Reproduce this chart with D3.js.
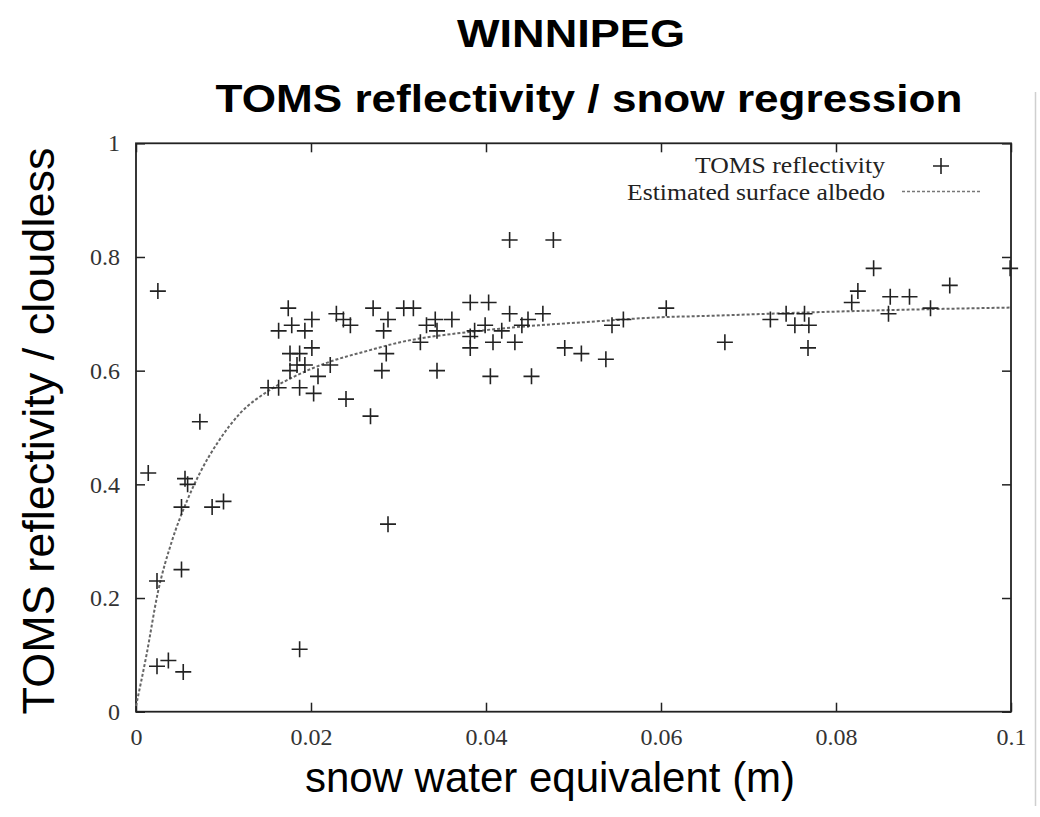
<!DOCTYPE html>
<html>
<head>
<meta charset="utf-8">
<script src="https://cdn.jsdelivr.net/npm/d3@7"></script>
<style>
  body { margin: 0; background: #fff; }
  .tick text { font-family: "Liberation Serif", serif; font-size: 24px; fill: #333; }
</style>
</head>
<body>
<div id="chart"></div>
<script>
// TOMS reflectivity measurements (snow water equivalent, reflectivity)
var sweValues = [0.0014, 0.0025, 0.0024, 0.0024, 0.0037, 0.0054, 0.0052, 0.0052, 0.0056, 0.0059,
  0.0073, 0.0087, 0.0100, 0.0151, 0.0163, 0.0163, 0.0174, 0.0178, 0.0176, 0.0176,
  0.0184, 0.0187, 0.0187, 0.0187, 0.0193, 0.0193, 0.0201, 0.0201, 0.0203, 0.0208,
  0.0222, 0.0229, 0.0237, 0.0245, 0.0240, 0.0268, 0.0271, 0.0281, 0.0283, 0.0286,
  0.0288, 0.0288, 0.0306, 0.0317, 0.0325, 0.0332, 0.0342, 0.0344, 0.0344, 0.0361,
  0.0382, 0.0382, 0.0382, 0.0387, 0.0399, 0.0403, 0.0405, 0.0408, 0.0418, 0.0427,
  0.0427, 0.0433, 0.0441, 0.0448, 0.0452, 0.0465, 0.0477, 0.0490, 0.0509, 0.0537,
  0.0544, 0.0557, 0.0606, 0.0673, 0.0725, 0.0743, 0.0753, 0.0764, 0.0769, 0.0768,
  0.0818, 0.0825, 0.0843, 0.0860, 0.0862, 0.0884, 0.0908, 0.0930, 0.0999];
var reflValues = [0.42, 0.74, 0.23, 0.08, 0.09, 0.07, 0.25, 0.36, 0.41, 0.40,
  0.51, 0.36, 0.37, 0.57, 0.57, 0.67, 0.71, 0.68, 0.63, 0.60,
  0.61, 0.63, 0.57, 0.11, 0.67, 0.61, 0.69, 0.64, 0.56, 0.59,
  0.61, 0.70, 0.69, 0.68, 0.55, 0.52, 0.71, 0.60, 0.67, 0.63,
  0.69, 0.33, 0.71, 0.71, 0.65, 0.68, 0.69, 0.67, 0.60, 0.69,
  0.72, 0.66, 0.64, 0.67, 0.68, 0.72, 0.59, 0.65, 0.67, 0.83,
  0.70, 0.65, 0.68, 0.69, 0.59, 0.70, 0.83, 0.64, 0.63, 0.62,
  0.68, 0.69, 0.71, 0.65, 0.69, 0.70, 0.68, 0.70, 0.68, 0.64,
  0.72, 0.74, 0.78, 0.70, 0.73, 0.73, 0.71, 0.75, 0.78];

// estimated surface albedo curve
var albedoX = [0, 0.0012, 0.0025, 0.0041, 0.0058, 0.0073, 0.0094, 0.0119, 0.0153, 0.0184, 0.0222,
  0.026, 0.0302, 0.0386, 0.0462, 0.0519, 0.0599, 0.0645, 0.0759, 0.0873, 0.1];
var albedoY = [0.01, 0.10, 0.21, 0.30, 0.37, 0.42, 0.475, 0.525, 0.566, 0.592, 0.616,
  0.633, 0.65, 0.669, 0.68, 0.686, 0.694, 0.696, 0.702, 0.707, 0.711];

var xTicks = [0, 0.02, 0.04, 0.06, 0.08, 0.1];
var yTicks = [0, 0.2, 0.4, 0.6, 0.8, 1];

var W = 1040, H = 817;
var margin = {top: 143.3, right: 29, bottom: 105.3, left: 136};
var width = W - margin.left - margin.right;
var height = H - margin.top - margin.bottom;

var root = d3.select("#chart").append("svg")
  .attr("width", W)
  .attr("height", H);

// faint border line on the right side of the original picture
root.append("line")
  .attr("x1", 1035.5).attr("x2", 1035.5)
  .attr("y1", 92).attr("y2", 806)
  .attr("stroke", "#cfcfcf").attr("stroke-width", 1.5);

var svg = root.append("g")
  .attr("transform", "translate(" + margin.left + "," + margin.top + ")");

var x = d3.scaleLinear().domain([0, 0.1]).range([0, width]);
var y = d3.scaleLinear().domain([0, 1]).range([height, 0]);

var fmt = function(d) { return d3.format("~g")(d); };

// axes, with ticks pointing inwards
svg.append("g")
  .attr("transform", "translate(0," + height + ")")
  .call(d3.axisBottom(x).tickValues(xTicks).tickSize(-9).tickPadding(16).tickFormat(fmt))
  .call(function(g) { g.select(".domain").remove(); });
svg.append("g")
  .call(d3.axisLeft(y).tickValues(yTicks).tickSize(-9).tickPadding(16).tickFormat(fmt))
  .call(function(g) { g.select(".domain").remove(); });
svg.append("g")
  .call(d3.axisTop(x).tickValues(xTicks).tickSize(-9).tickFormat(""))
  .call(function(g) { g.select(".domain").remove(); });
svg.append("g")
  .attr("transform", "translate(" + width + ",0)")
  .call(d3.axisRight(y).tickValues(yTicks).tickSize(-9).tickFormat(""))
  .call(function(g) { g.select(".domain").remove(); });
svg.selectAll(".tick line").attr("stroke", "#222").attr("stroke-width", 1.5);

svg.append("rect")
  .attr("width", width).attr("height", height)
  .attr("fill", "none").attr("stroke", "#222").attr("stroke-width", 1.8);

// albedo curve
var curveData = albedoX.map(function(v, i) { return [v, albedoY[i]]; });
svg.append("path")
  .datum(curveData)
  .attr("fill", "none")
  .attr("stroke", "#666")
  .attr("stroke-width", 2)
  .attr("stroke-dasharray", "3,2")
  .attr("d", d3.line().curve(d3.curveMonotoneX)
    .x(function(d) { return x(d[0]); })
    .y(function(d) { return y(d[1]); }));

// crosses
var pts = sweValues.map(function(v, i) { return [v, reflValues[i]]; });
var s = 8;
svg.append("g").selectAll("path")
  .data(pts)
  .enter().append("path")
  .attr("d", function(d) {
    var cx = x(d[0]), cy = y(d[1]);
    return "M" + (cx - s) + "," + cy + "H" + (cx + s) + "M" + cx + "," + (cy - s) + "V" + (cy + s);
  })
  .attr("stroke", "#222")
  .attr("stroke-width", 1.6)
  .attr("fill", "none");

// legend
var legend = root.append("g").style("font-family", "Liberation Serif, serif").style("font-size", "23px").attr("fill", "#222");
legend.append("text").attr("x", 885).attr("y", 173).attr("text-anchor", "end")
  .attr("textLength", 190).attr("lengthAdjust", "spacingAndGlyphs").text("TOMS reflectivity");
legend.append("text").attr("x", 885).attr("y", 200).attr("text-anchor", "end")
  .attr("textLength", 258).attr("lengthAdjust", "spacingAndGlyphs").text("Estimated surface albedo");
legend.append("path")
  .attr("d", "M" + (941 - s) + ",166H" + (941 + s) + "M941," + (166 - s) + "V" + (166 + s))
  .attr("stroke", "#222").attr("stroke-width", 1.6);
legend.append("line")
  .attr("x1", 902).attr("x2", 980).attr("y1", 191.5).attr("y2", 191.5)
  .attr("stroke", "#777").attr("stroke-width", 1.5).attr("stroke-dasharray", "3,2");

// titles
var titles = root.append("g").style("font-family", "Arial, Liberation Sans, sans-serif").style("font-weight", "bold")
  .style("font-size", "39px").attr("fill", "#000").attr("text-anchor", "middle");
titles.append("text").attr("x", 571).attr("y", 46.7)
  .attr("textLength", 228).attr("lengthAdjust", "spacingAndGlyphs").text("WINNIPEG");
titles.append("text").attr("x", 589).attr("y", 112)
  .attr("textLength", 747).attr("lengthAdjust", "spacingAndGlyphs").text("TOMS reflectivity / snow regression");

// axis titles
root.append("text")
  .attr("x", 550).attr("y", 792)
  .attr("text-anchor", "middle")
  .style("font-family", "Arial, Liberation Sans, sans-serif").style("font-size", "42px")
  .text("snow water equivalent (m)");
root.append("text")
  .attr("transform", "translate(54,431) rotate(-90)")
  .attr("text-anchor", "middle")
  .style("font-family", "Arial, Liberation Sans, sans-serif").style("font-size", "45px")
  .text("TOMS reflectivity / cloudless");
</script>
</body>
</html>
